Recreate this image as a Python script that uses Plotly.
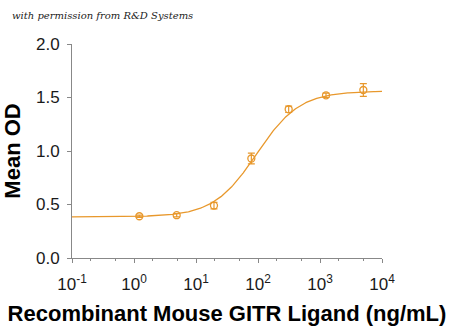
import numpy as np
import plotly.graph_objects as go

# Data
conc = [1.22, 4.88, 19.5, 78.1, 312.5, 1250, 5000]          # ng/mL
mean_od = [0.39, 0.40, 0.49, 0.93, 1.39, 1.52, 1.57]
err_od = [0.01, 0.015, 0.03, 0.05, 0.03, 0.02, 0.06]

# 4-parameter logistic fit parameters (estimated from the drawn curve)
fit_bottom = 0.385
fit_top = 1.56
fit_ec50 = 95.0
fit_hill = 1.25

x_tickvals = [0.1, 1, 10, 100, 1000, 10000]
x_ticktext = ["10<sup>-1</sup>", "10<sup>0</sup>", "10<sup>1</sup>",
              "10<sup>2</sup>", "10<sup>3</sup>", "10<sup>4</sup>"]
y_tickvals = [0.0, 0.5, 1.0, 1.5, 2.0]
y_ticktext = ["0.0", "0.5", "1.0", "1.5", "2.0"]

color = "#E8982C"

xfit = np.logspace(-1, 4, 300)
yfit = fit_bottom + (fit_top - fit_bottom) / (1 + (fit_ec50 / xfit) ** fit_hill)

fig = go.Figure()
fig.add_trace(go.Scatter(x=xfit, y=yfit, mode="lines",
                         line=dict(color=color, width=1.3), hoverinfo="skip"))
fig.add_trace(go.Scatter(x=conc, y=mean_od, mode="markers",
                         marker=dict(symbol="circle-open", size=7, color=color,
                                     line=dict(width=1.3, color=color)),
                         error_y=dict(type="data", array=err_od, color=color,
                                      thickness=1.2, width=3.5)))

fig.update_layout(
    width=450, height=326,
    margin=dict(l=72, r=68, t=44, b=68, autoexpand=False),
    paper_bgcolor="white", plot_bgcolor="white",
    showlegend=False,
    font=dict(family="Arial, Liberation Sans, sans-serif", color="#1a1a1a"),
    xaxis=dict(type="log", range=[-1, 4], tickvals=x_tickvals, ticktext=x_ticktext,
               automargin=False,
               showgrid=False, zeroline=False, showline=True, linecolor="#888888",
               linewidth=1, ticks="outside", ticklen=4, tickcolor="#888888",
               tickfont=dict(size=17), ticklabelstandoff=7,
               minor=dict(ticks="outside", ticklen=2, tickcolor="#888888",
                          showgrid=False),
               title=dict(text="<b>Recombinant Mouse GITR Ligand (ng/mL)</b>",
                          font=dict(size=22, color="#000000"))),
    yaxis=dict(range=[0, 2], tickvals=y_tickvals, ticktext=y_ticktext,
               automargin=False,
               showgrid=False, zeroline=False, showline=True, linecolor="#888888",
               linewidth=1, ticks="outside", ticklen=4, tickcolor="#888888",
               tickfont=dict(size=17), ticklabelstandoff=4,
               title=dict(text="<b>Mean OD</b>", font=dict(size=22, color="#000000"))),
    annotations=[dict(text="<i>with permission from R&amp;D Systems</i>",
                      xref="paper", yref="paper", x=-0.2, y=1.135,
                      xanchor="left", yanchor="middle", showarrow=False,
                      font=dict(family="DejaVu Serif, serif", size=10, color="#222222"))],
)

fig.write_html("out.html")
